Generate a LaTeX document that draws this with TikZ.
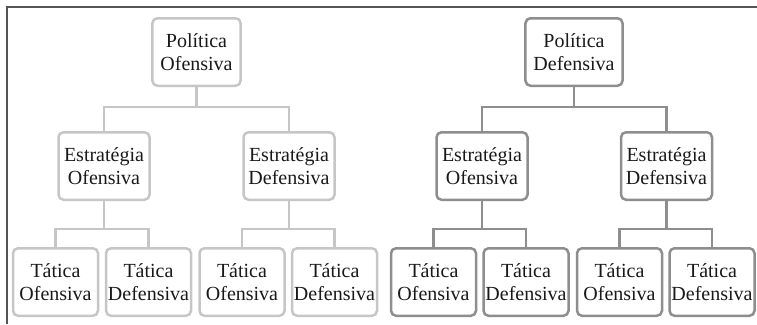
\documentclass[tikz,border=0pt]{standalone}
\usepackage{fontspec}
\setmainfont{Liberation Serif}
\usepackage{xcolor}
\usepackage{tikz}
\usetikzlibrary{positioning,calc}

\definecolor{lightline}{HTML}{C6C6C6}
\definecolor{darkline}{HTML}{8E8E8E}
\definecolor{frameline}{HTML}{555555}

\begin{document}
\begin{tikzpicture}[
    x=1pt, y=-1pt,
    font=\fontsize{20}{23.5}\selectfont,
    box/.style={draw, line width=2.5pt, rounded corners=5pt, align=center, text=black!90, minimum height=67.5pt, inner xsep=1pt},
    polbox/.style={box, minimum width=82pt, inner xsep=8pt},
    estbox/.style={box, minimum width=91pt},
    tatbox/.style={box, minimum width=85pt},
    light/.style={draw=lightline},
    dark/.style={draw=darkline},
    linkL/.style={draw=lightline, line width=2.5pt},
    linkD/.style={draw=darkline, line width=2.5pt}
]
\useasboundingbox (0,0) rectangle (757,324);

% moldura
\draw[frameline, line width=2pt] (6.5,324) -- (6.5,6.5) -- (757,6.5);

% lado ofensivo
\node[polbox, light] (polO) at (196.5,52) {Política\\Ofensiva};
\node[estbox, light] (estOO) at (104,166) {Estratégia\\Ofensiva};
\node[estbox, light] (estOD) at (289,166) {Estratégia\\Defensiva};
\node[tatbox, light] (tatOOO) at (55.5,282) {Tática\\Ofensiva};
\node[tatbox, light] (tatOOD) at (148.5,282) {Tática\\Defensiva};
\node[tatbox, light] (tatODO) at (242,282) {Tática\\Ofensiva};
\node[tatbox, light] (tatODD) at (334.5,282) {Tática\\Defensiva};

% lado defensivo
\node[polbox, dark] (polD) at (574,52) {Política\\Defensiva};
\node[estbox, dark] (estDO) at (482,166) {Estratégia\\Ofensiva};
\node[estbox, dark] (estDD) at (666.5,166) {Estratégia\\Defensiva};
\node[tatbox, dark] (tatDOO) at (433.5,282) {Tática\\Ofensiva};
\node[tatbox, dark] (tatDOD) at (526,282) {Tática\\Defensiva};
\node[tatbox, dark] (tatDDO) at (619.5,282) {Tática\\Ofensiva};
\node[tatbox, dark] (tatDDD) at (712,282) {Tática\\Defensiva};

% ligações
\draw[linkL] (polO.south) -- ++(0,20) -| (estOO.north);
\draw[linkL] (polO.south) -- ++(0,20) -| (estOD.north);
\draw[linkL] (estOO.south) -- ++(0,28) -| (tatOOO.north);
\draw[linkL] (estOO.south) -- ++(0,28) -| (tatOOD.north);
\draw[linkL] (estOD.south) -- ++(0,28) -| (tatODO.north);
\draw[linkL] (estOD.south) -- ++(0,28) -| (tatODD.north);

\draw[linkD] (polD.south) -- ++(0,20) -| (estDO.north);
\draw[linkD] (polD.south) -- ++(0,20) -| (estDD.north);
\draw[linkD] (estDO.south) -- ++(0,28) -| (tatDOO.north);
\draw[linkD] (estDO.south) -- ++(0,28) -| (tatDOD.north);
\draw[linkD] (estDD.south) -- ++(0,28) -| (tatDDO.north);
\draw[linkD] (estDD.south) -- ++(0,28) -| (tatDDD.north);

\end{tikzpicture}
\end{document}
